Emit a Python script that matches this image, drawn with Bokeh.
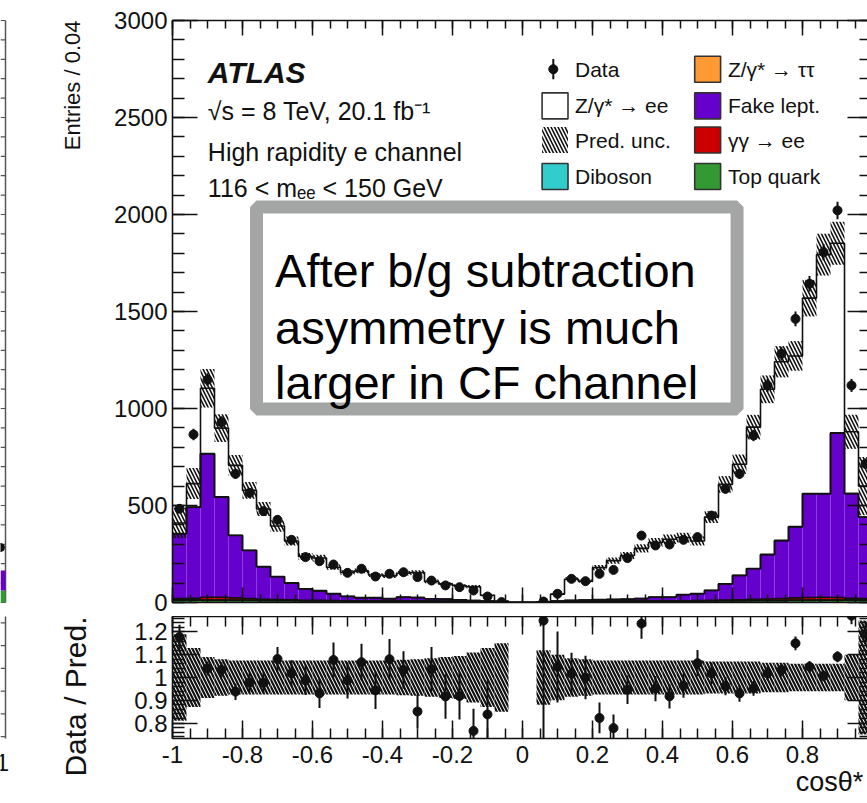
import numpy as np
from bokeh.plotting import figure
from bokeh.layouts import column, row
from bokeh.models import (Range1d, LinearAxis, FixedTicker, NumeralTickFormatter,
                          CustomJSTickFormatter, Label, BoxAnnotation)
from bokeh.embed import file_html
from bokeh.resources import INLINE

FONT = "Liberation Sans"

# cos(theta*) binning: 50 bins of width 0.04
EDGES = np.round(np.linspace(-1.0, 1.0, 51), 2)
CENTERS = 0.5 * (EDGES[:-1] + EDGES[1:])

# observed events per bin
DATA = [483, 866, 1148, 929, 663, 565, 471, 426, 323, 234,
        213, 196, 153, 174, 134, 148, 156, 131, 113, 88,
        79, 62, 31, 2, 0, 0, 5, 45, 122, 110,
        148, 168, 229, 345, 294, 299, 323, 337, 448, 586,
        663, 861, 1119, 1282, 1462, 1643, 1806, 2021, 1119, 715]

# stacked predictions, bottom to top
TOP_QUARK = [12, 12, 11, 11, 10, 10, 9, 9, 9, 8,
             8, 8, 7, 7, 7, 7, 6, 6, 6, 5,
             5, 4, 3, 1, 0, 0, 1, 3, 4, 5,
             5, 6, 6, 6, 7, 7, 7, 7, 8, 8,
             8, 9, 9, 9, 10, 10, 11, 11, 12, 12]
DIBOSON = [2, 2, 2, 2, 2, 2, 2, 2, 2, 1,
           1, 1, 1, 1, 1, 1, 1, 1, 1, 1,
           1, 1, 1, 0, 0, 0, 0, 1, 1, 1,
           1, 1, 1, 1, 1, 1, 1, 1, 1, 2,
           2, 2, 2, 2, 2, 2, 2, 2, 2, 2]
GAMGAM_EE = [6, 8, 14, 14, 12, 9, 6, 4, 3, 2,
             2, 1, 1, 1, 1, 1, 1, 1, 1, 1,
             1, 1, 0, 0, 0, 0, 0, 1, 1, 1,
             1, 1, 1, 1, 1, 1, 1, 2, 2, 3,
             4, 5, 7, 9, 12, 14, 14, 13, 8, 6]
FAKE_LEPT = [334, 469, 739, 516, 321, 247, 167, 118, 86, 59,
             49, 35, 22, 15, 15, 10, 19, 17, 11, 11,
             7, 4, 4, 3, 0, 0, 2, 3, 4, 5,
             7, 7, 9, 12, 18, 18, 31, 35, 51, 83,
             125, 158, 228, 298, 366, 534, 533, 847, 539, 420]
Z_TAUTAU = [1, 1, 2, 2, 2, 1, 1, 1, 1, 1,
            1, 1, 1, 1, 1, 1, 1, 1, 0, 0,
            0, 0, 0, 0, 0, 0, 0, 0, 1, 1,
            1, 1, 1, 1, 1, 1, 1, 1, 1, 1,
            1, 1, 2, 2, 2, 2, 2, 2, 1, 1]
Z_EE = [55, 121, 336, 354, 360, 309, 297, 260, 216, 166,
        168, 136, 123, 138, 117, 117, 123, 128, 90, 78,
        72, 71, 29, 4, 0, 0, 1, 35, 109, 97,
        165, 200, 224, 258, 281, 298, 294, 271, 377, 512,
        573, 729, 851, 921, 879, 1007, 1231, 977, 318, 159]

# relative uncertainty on the total prediction
REL_UNC = [0.19, 0.13, 0.09, 0.08, 0.075, 0.075, 0.075, 0.075, 0.075, 0.075,
           0.075, 0.075, 0.075, 0.075, 0.075, 0.075, 0.078, 0.08, 0.085, 0.09,
           0.095, 0.11, 0.13, 0.15, 0.0, 0.0, 0.12, 0.10, 0.085, 0.08,
           0.075, 0.075, 0.075, 0.075, 0.075, 0.075, 0.075, 0.075, 0.07, 0.07,
           0.07, 0.07, 0.065, 0.065, 0.06, 0.06, 0.06, 0.06, 0.10, 0.25]

STACK = [
    ("Top quark", TOP_QUARK, "#339933"),
    ("Diboson", DIBOSON, "#33cccc"),
    ("γγ → ee", GAMGAM_EE, "#cc0000"),
    ("Fake lept.", FAKE_LEPT, "#6600cc"),
    ("Z/γ* → ττ", Z_TAUTAU, "#ff9933"),
    ("Z/γ* → ee", Z_EE, "#ffffff"),
]

X_TICKS = [-1, -0.8, -0.6, -0.4, -0.2, 0, 0.2, 0.4, 0.6, 0.8, 1]
X_MINOR = [round(-1 + 0.05 * i, 2) for i in range(41)]
Y_TICKS = [0, 500, 1000, 1500, 2000, 2500, 3000]
Y_MINOR = list(range(0, 3001, 100))
R_TICKS = [0.8, 0.9, 1.0, 1.1, 1.2]
R_MINOR = [round(0.74 + 0.02 * i, 2) for i in range(27)]

X_END = 0.9857          # right edge of the visible frame
Y_MAX = 3000
R_LO, R_HI = 0.732, 1.268
X_TITLE_POS = 0.901     # centre of the x-axis title, ending at the axis end

INK = "#111111"

# page geometry (pixels)
PAGE_W, PAGE_H = 867, 803
GUTTER_W = 100                   # strip left of the tick labels, holds axis titles
AXIS_PAD = 72                    # room for tick labels inside each panel
MAIN_H, RATIO_H = 616, 187
PANEL_W = PAGE_W - GUTTER_W


def add_axis(fig, side, ticks, minor, major_in, minor_in, fmt=None,
             label_size=None, standoff=5, line=True):
    ax = LinearAxis(ticker=FixedTicker(ticks=ticks, minor_ticks=minor))
    ax.axis_line_color = INK if line else None
    ax.axis_line_width = 1.6
    ax.major_tick_in = major_in
    ax.major_tick_out = 0
    ax.minor_tick_in = minor_in
    ax.minor_tick_out = 0
    ax.major_tick_line_color = INK
    ax.minor_tick_line_color = INK
    ax.major_tick_line_width = 1.5
    ax.minor_tick_line_width = 1.5
    if fmt is not None:
        ax.formatter = fmt
    if label_size is None:
        # tick marks only
        ax.major_label_text_font_size = "0px"
        ax.major_label_text_color = None
        ax.major_label_text_alpha = 0
        ax.major_label_standoff = 0
    else:
        ax.major_label_text_font = FONT
        ax.major_label_text_font_size = label_size
        ax.major_label_text_color = INK
        ax.major_label_standoff = standoff
    fig.add_layout(ax, side)
    return ax


def bare_figure(**kw):
    f = figure(output_backend="svg", toolbar_location=None,
               x_axis_location=None, y_axis_location=None, **kw)
    f.grid.visible = False
    f.outline_line_color = None
    f.background_fill_color = "white"
    f.border_fill_color = "white"
    return f


# ---------------- main panel ----------------
p1 = bare_figure(width=PANEL_W, height=MAIN_H, x_range=Range1d(-1, X_END),
                 y_range=Range1d(0, Y_MAX), min_border_left=AXIS_PAD,
                 min_border_right=0, min_border_top=20, min_border_bottom=14)

add_axis(p1, "left", Y_TICKS, Y_MINOR, 25, 12,
         fmt=NumeralTickFormatter(format="0"), label_size="24px", standoff=5)
add_axis(p1, "right", Y_TICKS, Y_MINOR, 20, 8, line=False)
add_axis(p1, "above", X_TICKS, X_MINOR, 15, 8)
add_axis(p1, "below", X_TICKS, X_MINOR, 15, 8)

lo = EDGES[:-1]
hi = EDGES[1:]
base = np.zeros(len(CENTERS))
levels = []
for name, vals, color in STACK:
    top = base + np.array(vals, float)
    p1.quad(left=lo, right=hi, bottom=base, top=top, fill_color=color,
            line_color=None)
    levels.append(top)
    base = top
pred = base

for lev in levels:
    p1.step(x=EDGES, y=np.append(lev, lev[-1]), mode="after",
            line_color=INK, line_width=1.6)

unc = np.array(REL_UNC)
has_pred = pred > 0
p1.quad(left=lo[has_pred], right=hi[has_pred],
        bottom=(pred * (1 - unc))[has_pred], top=(pred * (1 + unc))[has_pred],
        fill_color=None, line_color=None, hatch_pattern="\\",
        hatch_color=INK, hatch_scale=7, hatch_weight=1.6)

data = np.array(DATA, float)
has_data = data > 0
err = np.sqrt(data)
p1.segment(x0=CENTERS[has_data], y0=(data - err)[has_data],
           x1=CENTERS[has_data], y1=(data + err)[has_data],
           line_color=INK, line_width=2)
p1.scatter(CENTERS[has_data], data[has_data], size=9, color=INK)

# legend, two columns of four rows
LEG_ROW_Y = [2749, 2560, 2384, 2196]
LEG_BOX_X = [0.093, 0.529]
LEG_TEXT_X = [0.150, 0.587]
LEG_BOX_W = 0.074
LEG_BOX_H = 134
LEG_FONT = "21px"

leg_left = [("Data", None), ("Z/γ* → ee", "#ffffff"),
            ("Pred. unc.", "hatch"), ("Diboson", "#33cccc")]
leg_right = [("Z/γ* → ττ", "#ff9933"), ("Fake lept.", "#6600cc"),
             ("γγ → ee", "#cc0000"), ("Top quark", "#339933")]

for col, items in enumerate([leg_left, leg_right]):
    for r, (text, fill) in enumerate(items):
        y = LEG_ROW_Y[r]
        x = LEG_BOX_X[col]
        if fill is None:
            p1.segment(x0=[x - 0.005], y0=[y - 52], x1=[x - 0.005], y1=[y + 52],
                       line_color=INK, line_width=2)
            p1.scatter([x - 0.005], [y], size=9, color=INK)
        elif fill == "hatch":
            p1.rect([x], [y], width=LEG_BOX_W, height=LEG_BOX_H,
                    fill_color=None, line_color=None, hatch_pattern="\\",
                    hatch_color=INK, hatch_scale=7, hatch_weight=1.6)
        else:
            p1.rect([x], [y], width=LEG_BOX_W, height=LEG_BOX_H,
                    fill_color=fill, line_color="#333333", line_width=1.6)
        p1.add_layout(Label(x=LEG_TEXT_X[col], y=y, text=text,
                            text_font=FONT, text_font_size=LEG_FONT,
                            text_color=INK, text_baseline="middle"))

# experiment labels
info = [("ATLAS", "30px", "bold italic", 2732),
        ("√s = 8 TeV, 20.1 fb⁻¹", "25px", "normal", 2536),
        ("High rapidity e channel", "25px", "normal", 2320),
        ("116 < mₑₑ < 150 GeV", "25px", "normal", 2139)]
for text, size, style, y in info:
    p1.add_layout(Label(x=-0.899, y=y, text=text, text_font=FONT,
                        text_font_size=size, text_font_style=style,
                        text_color=INK, text_baseline="alphabetic"))

# comment box
p1.add_layout(BoxAnnotation(left=-0.76, right=0.613, bottom=997, top=2039,
                            fill_color="white", fill_alpha=1.0,
                            line_color="#a4a6a5", line_width=13, line_alpha=1.0))
for text, y in [("After b/g subtraction", 1711),
                ("asymmetry is much", 1418),
                ("larger in CF channel", 1134)]:
    p1.add_layout(Label(x=-0.707, y=y, text=text, text_font=FONT,
                        text_font_size="47px", text_color="black",
                        text_baseline="alphabetic"))

# ---------------- ratio panel ----------------
p2 = bare_figure(width=PANEL_W, height=RATIO_H, x_range=p1.x_range,
                 y_range=Range1d(R_LO, R_HI), min_border_left=AXIS_PAD,
                 min_border_right=0, min_border_top=0, min_border_bottom=65)

add_axis(p2, "left", R_TICKS, R_MINOR, 25, 12,
         fmt=NumeralTickFormatter(format="0.[0]"), label_size="24px", standoff=5)
add_axis(p2, "right", R_TICKS, R_MINOR, 20, 8, line=False)
add_axis(p2, "above", X_TICKS, X_MINOR, 18, 10)
# tick axis next to the frame
add_axis(p2, "below", X_TICKS, X_MINOR, 18, 10,
         fmt=NumeralTickFormatter(format="0.[0]"), label_size="24px", standoff=7)

# x-axis title below the tick labels, right-aligned at the end of the axis
xtitle = LinearAxis(ticker=FixedTicker(ticks=[X_TITLE_POS], minor_ticks=[]),
                    formatter=CustomJSTickFormatter(code="return 'cosθ*'"))
xtitle.axis_line_color = None
xtitle.major_tick_in = 0
xtitle.major_tick_out = 0
xtitle.minor_tick_in = 0
xtitle.minor_tick_out = 0
xtitle.major_label_standoff = 1
xtitle.major_label_text_font = FONT
xtitle.major_label_text_font_size = "27px"
xtitle.major_label_text_color = INK
p2.add_layout(xtitle, "below")

p2.quad(left=lo[has_pred], right=hi[has_pred],
        bottom=(1 - unc)[has_pred], top=(1 + unc)[has_pred],
        fill_color=None, line_color=None, hatch_pattern="\\",
        hatch_color=INK, hatch_scale=7, hatch_weight=2.2)

ok = has_data & has_pred
ratio = np.where(ok, data / np.where(has_pred, pred, 1), 0)
rerr = np.where(ok, err / np.where(has_pred, pred, 1), 0)
p2.segment(x0=CENTERS[ok], y0=(ratio - rerr)[ok], x1=CENTERS[ok],
           y1=(ratio + rerr)[ok], line_color=INK, line_width=2)
p2.scatter(CENTERS[ok], ratio[ok], size=9, color=INK)

# ---------------- gutter with the y-axis titles ----------------
g = bare_figure(width=GUTTER_W, height=PAGE_H, x_range=Range1d(0, GUTTER_W),
                y_range=Range1d(0, PAGE_H), min_border_left=0,
                min_border_right=0, min_border_top=0, min_border_bottom=0)
g.add_layout(Label(x=72, y=PAGE_H - 20, text="Entries / 0.04", angle=np.pi / 2,
                   text_align="right", text_baseline="alphabetic",
                   text_font=FONT, text_font_size="22px", text_color=INK))
g.add_layout(Label(x=75, y=PAGE_H - 616, text="Data / Pred.", angle=np.pi / 2,
                   text_align="right", text_baseline="alphabetic",
                   text_font=FONT, text_font_size="30px", text_color=INK))

# right edge of the neighbouring panel, just visible at the far left
NB_EDGE = 5
nb_main = (PAGE_H - 602, PAGE_H - 20)
nb_ratio = (PAGE_H - 738, PAGE_H - 616)
g.segment(x0=[NB_EDGE, NB_EDGE], y0=[nb_main[0], nb_ratio[0]],
          x1=[NB_EDGE, NB_EDGE], y1=[nb_main[1], nb_ratio[1]],
          line_color="#555555", line_width=1.5)
nb_ticks = [nb_main[0] + v * 0.194 for v in Y_MINOR]
g.segment(x0=[0] * len(nb_ticks), y0=nb_ticks, x1=[NB_EDGE] * len(nb_ticks),
          y1=nb_ticks, line_color="#555555", line_width=1.2)
nb_rticks = [nb_ratio[0] + (t - R_LO) * 227.6 for t in R_MINOR[::5]]
g.segment(x0=[0] * len(nb_rticks), y0=nb_rticks, x1=[NB_EDGE] * len(nb_rticks),
          y1=nb_rticks, line_color="#555555", line_width=1.2)
g.quad(left=[0, 0], right=[NB_EDGE, NB_EDGE], bottom=[PAGE_H - 602, PAGE_H - 590],
       top=[PAGE_H - 590, PAGE_H - 570], fill_color=["#339933", "#6600cc"],
       line_color=None)
g.scatter([0], [PAGE_H - 547], size=8, color=INK)
g.add_layout(Label(x=2, y=PAGE_H - 762, text="1", text_align="center",
                   text_baseline="alphabetic", text_font=FONT,
                   text_font_size="24px", text_color=INK))

layout = row(g, column(p1, p2, spacing=0), spacing=0)
open("out.html", "w").write(file_html(layout, INLINE))
